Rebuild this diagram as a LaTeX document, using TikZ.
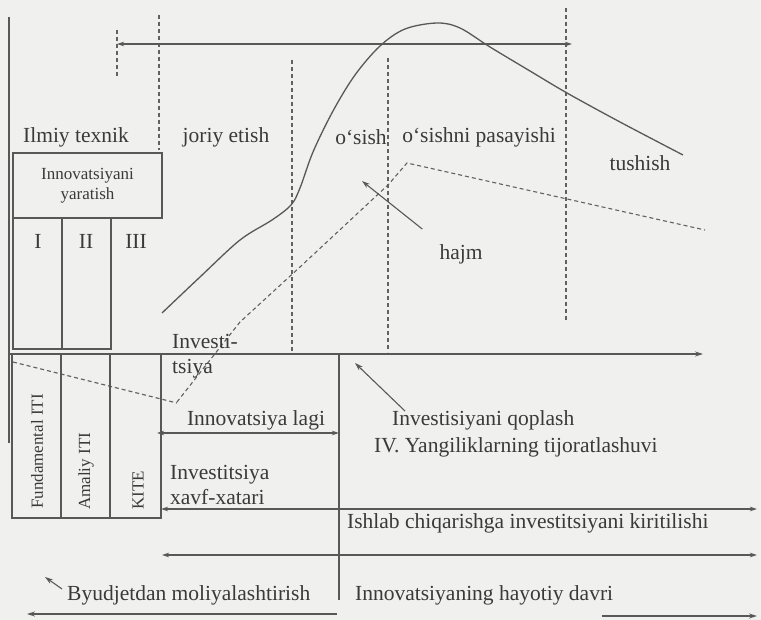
\documentclass[tikz,border=0pt]{standalone}
\usepackage{fontspec}
\setmainfont{Liberation Serif}
\usetikzlibrary{arrows.meta,positioning,calc}
\definecolor{ink}{HTML}{3A3A3A}
\definecolor{paper}{HTML}{F0F0EE}

\begin{document}
\begin{tikzpicture}[
    x=1pt, y=-1pt,
    font=\fontsize{21.5}{25}\selectfont,
    lbl/.style={inner sep=0pt, text=ink},
    lblsmall/.style={inner sep=0pt, text=ink, font=\fontsize{17}{19.5}\selectfont},
    frameline/.style={draw=ink!85, line width=1.2pt},
    guide/.style={draw=ink!80, line width=1.1pt, dash pattern=on 4pt off 3pt},
    volume/.style={draw=ink!85, line width=1.3pt},
    arrow/.style={-{Stealth[length=8pt,width=5pt]}, line width=1.1pt, draw=ink!85},
    twoway/.style={{Stealth[length=7pt,width=4.5pt]}-{Stealth[length=7pt,width=4.5pt]}, line width=1.1pt, draw=ink!85}
]
\fill[paper] (0,0) rectangle (761,620);
\useasboundingbox (0,0) rectangle (761,620);

% Stage guides (dotted verticals)
\draw[guide] (117,30) -- (117,78);
\draw[guide] (159,15) -- (159,150);
\draw[guide] (292,60) -- (292,352);
\draw[guide] (388,58) -- (388,352);
\draw[guide] (566,8) -- (566,320);

% Axes
\coordinate (ytop) at (9,17);
\coordinate (ybot) at (9,443);
\coordinate (xleft) at (8,354);
\coordinate (xright) at (703,354);
\draw[frameline] (ytop) -- (ybot);
\draw[arrow] (xleft) -- (xright);

% Top span arrow
\coordinate (spanL) at (117,44);
\coordinate (spanR) at (572,44);
\draw[twoway] (spanL) -- (spanR);

% Volume curve and investment curve
\draw[volume] plot[smooth, tension=0.55] coordinates {(162,313) (200,277) (240,240) (272,220) (291,205) (300,188) (313,152) (333,111) (355,75) (380,46) (405,29) (437,23) (460,28) (490,47) (530,71) (567,93) (620,122) (683,155)};
\draw[guide] (177,402) -- (210,360) -- (240,322) -- (300,267) -- (388,185) -- (407,163) -- (705,230);
\draw[guide] (13,362) -- (177,403);

% Phase labels
\node[lbl] (ilmiy) at (76,137) {Ilmiy texnik};
\node[lbl] (joriy) at (226,137) {joriy etish};
\node[lbl] (osish) at (361,137) {o‘sish};
\node[lbl] (pasay) at (479,137) {o‘sishni pasayishi};
\node[lbl] (tushish) at (640,163) {tushish};
\node[lbl] (hajm) at (461,254) {hajm};

% Left stage box (upper)
\node[lblsmall, frameline, align=center, minimum width=149pt, minimum height=65pt] (yaratish) at (87.5,185.5) {Innovatsiyani\\yaratish};
\draw[frameline] (13,218) -- (13,349) -- (111,349) -- (111,218);
\draw[frameline] (62,218) -- (62,349);
\node[lbl] (st1) at (38,241) {I};
\node[lbl] (st2) at (86,241) {II};
\node[lbl] (st3) at (136,241) {III};

% Left stage box (lower)
\draw[frameline] (12,354) -- (12,518) -- (161,518) -- (161,354);
\draw[frameline] (61,354) -- (61,518);
\draw[frameline] (110,354) -- (110,518);
\node[lblsmall, rotate=90, anchor=west] (fund) at (37,509) {Fundamental ITI};
\node[lblsmall, rotate=90, anchor=west] (amaliy) at (86,510) {Amaliy ITI};
\node[lblsmall, rotate=90, anchor=west] (kite) at (138,510) {KITE};

% Investment labels
\node[lbl, align=left, anchor=west] (investi) at (172,356) {Investi-\\tsiya};
\node[lbl] (lagi) at (256,420) {Innovatsiya lagi};
\node[lbl, align=left, anchor=west] (xavf) at (170,485) {Investitsiya\\xavf-xatari};
\node[lbl, anchor=west] (qoplash) at (392,420) {Investisiyani qoplash};
\node[lbl, anchor=west] (tijorat) at (374,447) {IV. Yangiliklarning tijoratlashuvi};
\node[lbl, anchor=west] (ishlab) at (347,523) {Ishlab chiqarishga investitsiyani kiritilishi};
\node[lbl, anchor=west] (byudjet) at (67,595) {Byudjetdan moliyalashtirish};
\node[lbl, anchor=west] (hayot) at (355,595) {Innovatsiyaning hayotiy davri};

% Divider of life cycle
\draw[frameline] (339,354) -- (339,600);

% Span arrows (bottom)
\coordinate (lagL) at (157,433);
\coordinate (lagR) at (339,433);
\draw[twoway] (lagL) -- (lagR);
\coordinate (prodL) at (161,509);
\coordinate (prodR) at (757,509);
\draw[twoway] (prodL) -- (prodR);
\coordinate (fullL) at (162,555);
\coordinate (fullR) at (757,555);
\draw[twoway] (fullL) -- (fullR);
\coordinate (budR) at (337,614);
\coordinate (budL) at (27,614);
\draw[arrow] (budR) -- (budL);
\coordinate (lifeL) at (602,616);
\coordinate (lifeR) at (757,616);
\draw[arrow] (lifeL) -- (lifeR);

% Pointer arrows
\coordinate (hajmtip) at (362,181);
\draw[arrow] (hajm.north west) ++(-17,-15) -- (hajmtip);
\coordinate (qoplashtip) at (355,363);
\draw[arrow] (qoplash.north west) ++(13,1) -- (qoplashtip);
\coordinate (byudjettip) at (45,577);
\draw[arrow] (byudjet.west) ++(-5,-6) -- (byudjettip);

\end{tikzpicture}
\end{document}
